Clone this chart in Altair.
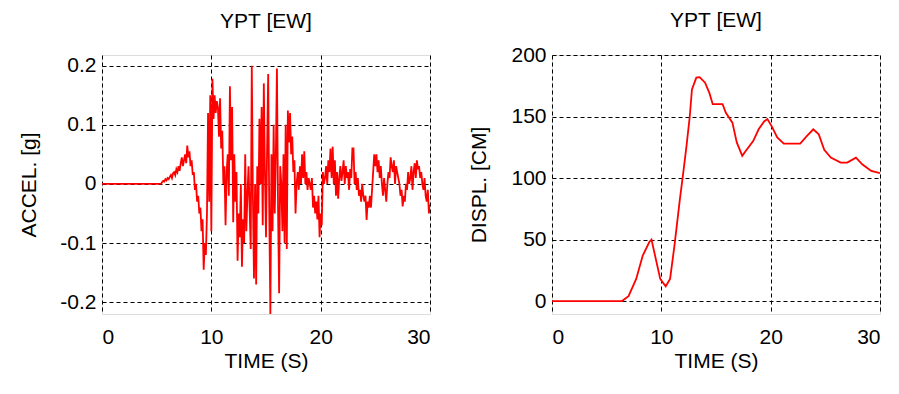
import altair as alt
import pandas as pd

# ---- acceleration record (g) ----
acc_t = [0.0, 5.0, 5.1, 5.2, 5.3, 5.4, 5.5, 5.6, 5.7, 5.8, 5.9]
acc_a = [0.0, 0.0, 0.0, 0.0, 0.0, 0.0, 0.003, 0.005, 0.004, 0.008, 0.006]
acc_rest = [
    # 6.0 - 6.9
    0.01, 0.008, 0.012, 0.015, 0.01, 0.018, 0.02, 0.015, 0.025, 0.02,
    # 7.0 - 7.9
    0.03, 0.022, 0.035, 0.045, 0.03, 0.04, 0.05, 0.035, 0.065, 0.045,
    # 8.0 - 8.9
    0.055, 0.03, 0.04, 0.015, 0.02, -0.01, 0.0, -0.03, -0.02, -0.05,
    # 9.0 - 9.9
    -0.04, -0.08, -0.06, -0.145, -0.1, -0.12, -0.05, 0.12, -0.03, 0.15,
    # 10.0 - 10.9
    -0.08, 0.178, 0.11, 0.15, 0.12, 0.14, 0.13, 0.08, 0.145, 0.06,
    # 11.0 - 11.9
    0.09, 0.0, 0.03, -0.07, 0.02, 0.05, -0.02, 0.165, 0.04, 0.13,
    # 12.0 - 12.9
    -0.065, 0.05, -0.03, 0.02, -0.13, -0.05, -0.09, 0.0, -0.14, -0.06,
    # 13.0 - 13.9
    -0.1, 0.05, -0.08, -0.02, 0.03, -0.04, -0.11, 0.2, -0.02, -0.16,
    # 14.0 - 14.9
    0.0, -0.17, 0.03, -0.05, 0.11, 0.0, 0.13, -0.07, 0.17, 0.02,
    # 15.0 - 15.9
    -0.09, 0.06, 0.186, -0.05, -0.22, 0.05, -0.08, 0.1, -0.05, 0.05,
    # 16.0 - 16.9
    0.195, -0.04, -0.185, 0.03, 0.0, -0.08, 0.05, -0.1, 0.1, -0.11,
    # 17.0 - 17.9
    0.124, 0.07, 0.12, 0.05, 0.08, 0.02, 0.04, -0.05, 0.0, 0.02,
    # 18.0 - 18.9
    -0.01, 0.03, 0.0, 0.05, 0.01, 0.055, 0.0, 0.02, -0.01, 0.01,
    # 19.0 - 19.9
    0.0, -0.01, 0.01, -0.04, -0.02, -0.05, -0.03, -0.06, -0.02, -0.09,
    # 20.0 - 20.9
    -0.05, -0.07, 0.02, 0.0, 0.01, 0.03, 0.0, 0.04, 0.02, 0.06,
    # 21.0 - 21.9
    0.01, 0.063, 0.0, 0.04, -0.02, 0.02, -0.025, 0.01, 0.03, 0.005,
    # 22.0 - 22.9
    0.02, 0.04, 0.0, 0.03, 0.01, 0.02, -0.01, 0.025, 0.01, 0.06,
    # 23.0 - 23.9
    0.06, 0.0, 0.02, -0.01, 0.01, -0.02, -0.01, -0.03, 0.0, -0.02,
    # 24.0 - 24.9
    -0.03, -0.02, -0.061, -0.03, -0.04, -0.02, -0.04, -0.01, 0.02, 0.05,
    # 25.0 - 25.9
    0.03, 0.05, 0.02, 0.04, 0.01, 0.03, 0.0, -0.02, 0.01, -0.01,
    # 26.0 - 26.9
    -0.03, 0.0, 0.02, 0.01, 0.045, 0.03, 0.02, 0.04, 0.0, 0.03,
    # 27.0 - 27.9
    0.02, 0.01, 0.0, -0.02, -0.01, -0.038, -0.02, -0.03, 0.0, -0.01,
    # 28.0 - 28.9
    0.02, 0.0, 0.01, 0.03, -0.01, 0.02, 0.035, 0.01, 0.04, 0.025,
    # 29.0 - 29.9
    0.03, 0.01, 0.02, 0.0, -0.01, 0.01, -0.02, -0.03, -0.01, -0.05,
    # 30.0
    -0.035,
]
acc_rest_t = [round(6.0 + 0.1 * i, 1) for i in range(len(acc_rest))]

# ---- displacement record (cm) ----
dis_t = [0.0, 6.4, 7.0, 7.7, 8.3, 8.9, 9.1, 9.5, 9.9, 10.4, 10.8, 11.2, 11.7,
         12.0, 12.3, 12.6, 12.8, 13.2, 13.5, 14.0, 14.4, 14.7, 15.1, 15.6,
         15.9, 16.5, 16.9, 17.4, 17.8, 18.4, 18.9, 19.4, 19.7, 20.1, 20.6,
         21.2, 22.7, 23.3, 23.9, 24.4, 24.9, 25.5, 26.4, 27.0, 27.8, 28.4,
         29.2, 30.0]
dis_d = [0.0, 0.0, 4, 18, 37, 48, 50, 34, 18, 12, 18, 45, 83,
         104, 126, 150, 172, 181.6, 182, 177.5, 169, 160, 160, 160,
         153, 145, 129, 118, 123, 130, 139.6, 146, 148, 142, 133,
         128, 128, 134, 139.6, 135.5, 123, 116.6, 112.6, 112.6, 116.6, 111,
         105.8, 104]

title_txt = "YPT [EW]"
xlab = "TIME (S)"
ylab_acc = "ACCEL. [g]"
ylab_dis = "DISPL. [CM]"

acc_df = pd.DataFrame({"t": acc_t + acc_rest_t, "a": acc_a + acc_rest})
dis_df = pd.DataFrame({"t": dis_t, "d": dis_d})

FONT = "Liberation Sans"
FS = 21

def xaxis():
    return alt.Axis(values=[0, 10, 20, 30], title=xlab, grid=True, gridColor="black",
                    gridDash=[4, 3], gridOpacity=1, gridWidth=1, ticks=False, domain=False,
                    labelFont=FONT, labelFontSize=FS, labelColor="black", labelPadding=12,
                    titleFont=FONT, titleFontSize=FS, titleFontWeight="normal",
                    titleColor="black", titlePadding=3)

def yaxis(vals, title, tpad):
    return alt.Axis(values=vals, title=title, grid=True, gridColor="black",
                    gridDash=[4, 3], gridOpacity=1, gridWidth=1, ticks=False, domain=False,
                    labelFont=FONT, labelFontSize=FS, labelColor="black", labelPadding=6,
                    labelExpr="'' + datum.value",
                    titleFont=FONT, titleFontSize=FS, titleFontWeight="normal",
                    titleColor="black", titlePadding=tpad)

def ttl(off):
    return alt.TitleParams(title_txt, font=FONT, fontSize=FS, fontWeight="normal",
                           color="black", offset=off)

left = alt.Chart(acc_df, title=ttl(23)).mark_line(color="#ff0000", strokeWidth=1.8, clip=True).encode(
    x=alt.X("t:Q", scale=alt.Scale(domain=[0, 30], nice=False), axis=xaxis()),
    y=alt.Y("a:Q", scale=alt.Scale(domain=[-0.22, 0.218], nice=False, zero=False),
            axis=yaxis([-0.2, -0.1, 0, 0.1, 0.2], ylab_acc, 20)),
).properties(width=328, height=259)

right = alt.Chart(dis_df, title=ttl(13)).mark_line(color="#ff0000", strokeWidth=1.8, clip=True).encode(
    x=alt.X("t:Q", scale=alt.Scale(domain=[0, 30], nice=False), axis=xaxis()),
    y=alt.Y("d:Q", scale=alt.Scale(domain=[-10.5, 200], nice=False, zero=False),
            axis=yaxis([0, 50, 100, 150, 200], ylab_dis, 21)),
).properties(width=328, height=259)

chart = alt.hconcat(left, right, spacing=37).properties(
    padding={"left": 18, "top": 9, "right": 5, "bottom": 0}
).configure_view(stroke="black", strokeWidth=1).configure(background="white")

chart.save("out.html", embed_options={"renderer": "svg", "actions": False})
